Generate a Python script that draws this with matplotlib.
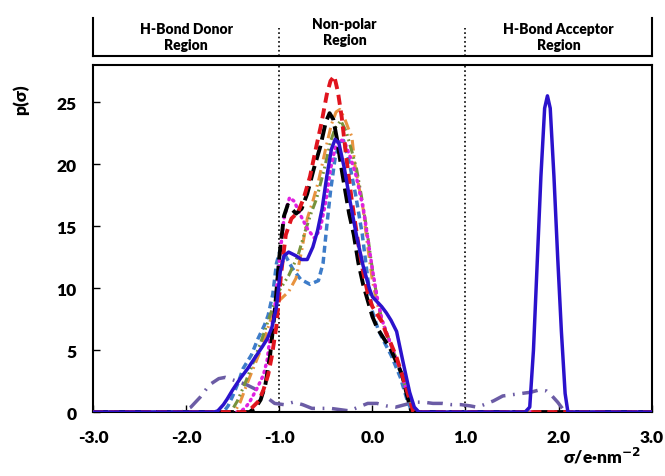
import numpy as np
import matplotlib as mpl
mpl.use("Agg")
import matplotlib.pyplot as plt

plt.rcParams['font.family'] = ['Lato', 'DejaVu Sans']
plt.rcParams['font.weight'] = 'heavy'

# sigma-profiles (sigma in e/nm^2, p(sigma))
s_black = [-3.0, -1.32, -1.25, -1.2, -1.15, -1.1, -1.05, -1.0, -0.95, -0.91, -0.87, -0.82, -0.76, -0.7, -0.63, -0.56,
           -0.5, -0.46, -0.42, -0.38, -0.34, -0.3, -0.25, -0.2, -0.15, -0.1, -0.05, 0.0, 0.05, 0.1, 0.15, 0.2, 0.26,
           0.32, 0.37, 0.42, 3.0]
p_black = [0, 0, 0.4, 1.0, 2.2, 4.5, 8.0, 12.5, 15.8, 16.7, 16.4, 16.0, 16.4, 17.6, 19.6, 21.4,
           23.4, 24.1, 23.6, 22.0, 20.0, 18.2, 16.0, 14.3, 12.0, 10.3, 9.0, 7.7, 6.8, 6.2, 5.6, 5.0, 4.0,
           3.0, 1.4, 0.0, 0]

s_red = [-3.0, -1.36, -1.3, -1.22, -1.17, -1.12, -1.08, -1.03, -0.98, -0.93, -0.87, -0.8, -0.74, -0.67, -0.6, -0.55,
         -0.49, -0.45, -0.41, -0.37, -0.33, -0.28, -0.22, -0.15, -0.1, -0.05, 0.0, 0.05, 0.1, 0.15, 0.2, 0.26, 0.32,
         0.38, 0.44, 3.0]
p_red = [0, 0, 0.3, 0.9, 1.8, 3.0, 4.5, 7.0, 11.2, 14.3, 15.6, 16.1, 17.2, 19.0, 21.5, 23.2,
         25.6, 26.7, 27.1, 25.8, 23.8, 20.5, 17.0, 13.5, 11.3, 9.6, 8.5, 7.9, 7.3, 6.3, 5.5, 4.4, 3.0,
         1.5, 0.0, 0]

s_orange = [-3.0, -1.48, -1.42, -1.34, -1.27, -1.2, -1.1, -1.0, -0.9, -0.82, -0.76, -0.7, -0.64, -0.58, -0.5, -0.44,
            -0.39, -0.35, -0.3, -0.26, -0.22, -0.19, -0.14, -0.1, -0.05, 0.0, 0.05, 0.1, 0.2, 0.3, 0.38, 0.45, 3.0]
p_orange = [0, 0, 0.8, 2.4, 3.7, 5.0, 7.3, 9.0, 9.7, 10.8, 13.0, 15.6, 17.0, 18.6, 21.3, 23.2,
            24.2, 24.4, 23.7, 22.9, 22.2, 20.0, 18.0, 16.4, 13.3, 10.6, 8.8, 7.4, 5.4, 3.4, 1.4, 0.0, 0]

s_olive = [-3.0, -1.52, -1.45, -1.38, -1.3, -1.2, -1.1, -1.0, -0.9, -0.8, -0.73, -0.66, -0.6, -0.52, -0.45, -0.4,
           -0.34, -0.28, -0.22, -0.17, -0.12, -0.06, 0.0, 0.05, 0.1, 0.2, 0.3, 0.38, 0.45, 3.0]
p_olive = [0, 0, 0.9, 2.1, 3.6, 5.6, 7.8, 9.8, 11.0, 12.6, 14.4, 16.0, 17.2, 19.5, 21.8, 22.9,
           23.5, 22.6, 21.0, 19.6, 17.5, 14.7, 11.5, 9.2, 7.5, 5.4, 3.4, 1.4, 0.0, 0]

s_magenta = [-3.0, -1.42, -1.36, -1.32, -1.24, -1.17, -1.13, -1.1, -1.05, -1.0, -0.95, -0.89, -0.84, -0.78, -0.7,
             -0.62, -0.56, -0.5, -0.45, -0.4, -0.35, -0.3, -0.24, -0.18, -0.1, -0.05, 0.0, 0.05, 0.1, 0.2, 0.3,
             0.38, 0.45, 3.0]
p_magenta = [0, 0, 0.4, 0.8, 1.9, 3.0, 4.2, 6.0, 8.3, 12.2, 15.6, 17.3, 17.0, 16.0, 14.8,
             14.0, 14.8, 17.0, 19.6, 21.3, 22.0, 21.8, 20.6, 19.2, 16.5, 14.0, 11.5, 9.3, 7.5, 5.4, 3.4,
             1.4, 0.0, 0]

s_steel = [-3.0, -1.6, -1.55, -1.5, -1.44, -1.39, -1.3, -1.23, -1.16, -1.12, -1.07, -1.03, -0.99, -0.94, -0.86, -0.77,
           -0.67, -0.58, -0.53, -0.49, -0.45, -0.4, -0.35, -0.31, -0.25, -0.18, -0.11, -0.05, 0.0, 0.06, 0.13, 0.2,
           0.3, 0.38, 0.43, 3.0]
p_steel = [0, 0, 0.5, 1.3, 2.4, 3.5, 4.6, 5.9, 7.0, 7.8, 9.5, 12.0, 13.1, 12.7, 11.6, 10.7,
           10.3, 10.6, 12.0, 15.0, 17.8, 20.5, 21.8, 21.9, 20.2, 17.5, 14.4, 10.8, 8.1, 6.7, 5.6, 4.6,
           2.8, 0.8, 0.0, 0]

s_blue = [-3.0, -1.7, -1.66, -1.6, -1.56, -1.5, -1.42, -1.34, -1.26, -1.18, -1.13, -1.08, -1.03, -0.99, -0.95, -0.9,
          -0.82, -0.76, -0.7, -0.64, -0.59, -0.54, -0.49, -0.44, -0.4, -0.36, -0.3, -0.24, -0.17, -0.1, -0.03, 0.0,
          0.05, 0.1, 0.15, 0.2, 0.26, 0.33, 0.4, 0.45, 0.5, 1.64, 1.69, 1.73, 1.77, 1.81, 1.85, 1.88, 1.91, 1.95,
          1.99, 2.03, 2.07, 2.1, 3.0]
p_blue = [0, 0, 0.1, 0.6, 1.05, 1.8, 2.7, 3.5, 4.4, 5.3, 5.9, 6.8, 8.5, 11.3, 12.6, 12.9,
          12.6, 12.3, 12.3, 13.3, 14.6, 16.4, 19.0, 21.2, 22.0, 21.7, 19.6, 17.0, 14.2, 11.8, 9.9, 9.3,
          8.9, 8.5, 8.0, 7.4, 6.5, 4.0, 1.6, 0.4, 0.0, 0.0, 0.4, 5.0, 12.0, 19.0, 24.5, 25.5, 24.5, 19.0,
          12.5, 6.5, 1.5, 0.0, 0]

s_purple = [-3.0, -2.05, -1.95, -1.85, -1.75, -1.65, -1.58, -1.5, -1.42, -1.35, -1.27, -1.2, -1.12, -1.05, -0.95,
            -0.85, -0.75, -0.65, -0.55, -0.45, -0.35, -0.25, -0.15, -0.05, 0.05, 0.15, 0.25, 0.35, 0.45, 0.55,
            0.65, 0.75, 0.85, 0.95, 1.05, 1.12, 1.2, 1.3, 1.4, 1.5, 1.6, 1.7, 1.8, 1.87, 1.93, 1.99, 2.05, 2.1, 3.0]
p_purple = [0, 0, 0.4, 1.2, 2.2, 2.7, 2.8, 2.6, 2.4, 2.2, 1.9, 1.6, 1.1, 0.7, 0.6,
            0.8, 0.6, 0.3, 0.3, 0.3, 0.2, 0.1, 0.4, 0.7, 0.7, 0.5, 0.4, 0.6, 0.8, 0.8,
            0.7, 0.7, 0.6, 0.6, 0.5, 0.4, 0.6, 0.9, 1.3, 1.4, 1.5, 1.6, 1.8, 1.7, 1.3, 0.8, 0.2, 0.0, 0]

x_ticks = [-3.0, -2.0, -1.0, 0.0, 1.0, 2.0, 3.0]
y_ticks = [0, 5, 10, 15, 20, 25]
regions = ["H-Bond Donor\nRegion", "Non-polar\nRegion", "H-Bond Acceptor\nRegion"]
region_pos = [-2.0, -0.3, 2.0]


fig = plt.figure(figsize=(6.65, 4.77), dpi=100)

# header strip with the three regions
hd = fig.add_axes([0.140, 0.880, 0.840, 0.080])
hd.set_xlim(-3, 3)
hd.set_ylim(0, 1)
hd.set_xticks([])
hd.set_yticks([])
hd.spines['top'].set_visible(False)
for sp in ['left', 'right', 'bottom']:
    hd.spines[sp].set_linewidth(1.5)
hd.plot([-1, -1], [0, 0.75], color='k', ls=':', lw=1.2)
hd.plot([1, 1], [0, 0.75], color='k', ls=':', lw=1.2)
for i in range(len(regions)):
    yy = 0.52 if i != 1 else 0.64
    hd.text(region_pos[i], yy, regions[i], ha='center', va='center', fontsize=10,
            fontweight='heavy', linespacing=1.3)

ax = fig.add_axes([0.140, 0.134, 0.840, 0.728])
ax.axvline(-1, color='k', ls=':', lw=1.2, zorder=1)
ax.axvline(1, color='k', ls=':', lw=1.2, zorder=1)

ax.plot(s_purple, p_purple, color='#6B5CA5', lw=2.5, dashes=(4.5, 2.2, 0.5, 2.2), zorder=2)
ax.plot(s_steel, p_steel, color='#3D7CC9', lw=2.5, dashes=(2.0, 1.2), zorder=3)
ax.plot(s_orange, p_orange, color='#E8933F', lw=2.2, dashes=(3.5, 1.5, 0.6, 1.5), zorder=3)
ax.plot(s_olive, p_olive, color='#77933C', lw=2.2, dashes=(3.0, 1.2, 0.6, 1.2, 0.6, 1.2), zorder=3)
ax.plot(s_magenta, p_magenta, color='#E020E0', lw=2.5, dashes=(0.4, 1.4), dash_capstyle='round', zorder=4)
ax.plot(s_black, p_black, color='k', lw=2.8, dashes=(3.8, 1.6), zorder=4)
ax.plot(s_red, p_red, color='#E0141E', lw=2.8, dashes=(2.6, 1.5), zorder=4)
ax.plot(s_blue, p_blue, color='#2B12CC', lw=2.5, zorder=5)

ax.set_xlim(-3, 3)
ax.set_ylim(0, 28)
ax.set_xticks(x_ticks)
ax.set_xticklabels(["%.1f" % v for v in x_ticks])
ax.set_yticks(y_ticks)
ax.tick_params(direction='in', length=5, width=1, labelsize=12.5)
ax.tick_params(axis='x', pad=12)
ax.tick_params(axis='y', pad=12)
for lab in ax.get_xticklabels() + ax.get_yticklabels():
    lab.set_fontweight('heavy')
for sp in ax.spines.values():
    sp.set_linewidth(1.5)

fig.text(0.032, 0.79, "p(σ)", rotation=90, ha='center', va='center', fontsize=12.5, fontweight='heavy')
fig.text(0.905, 0.022, r"σ/e·nm$^{\mathbf{-2}}$", ha='center', va='bottom', fontsize=12.5, fontweight='heavy')

fig.savefig("out.png", dpi=100)
